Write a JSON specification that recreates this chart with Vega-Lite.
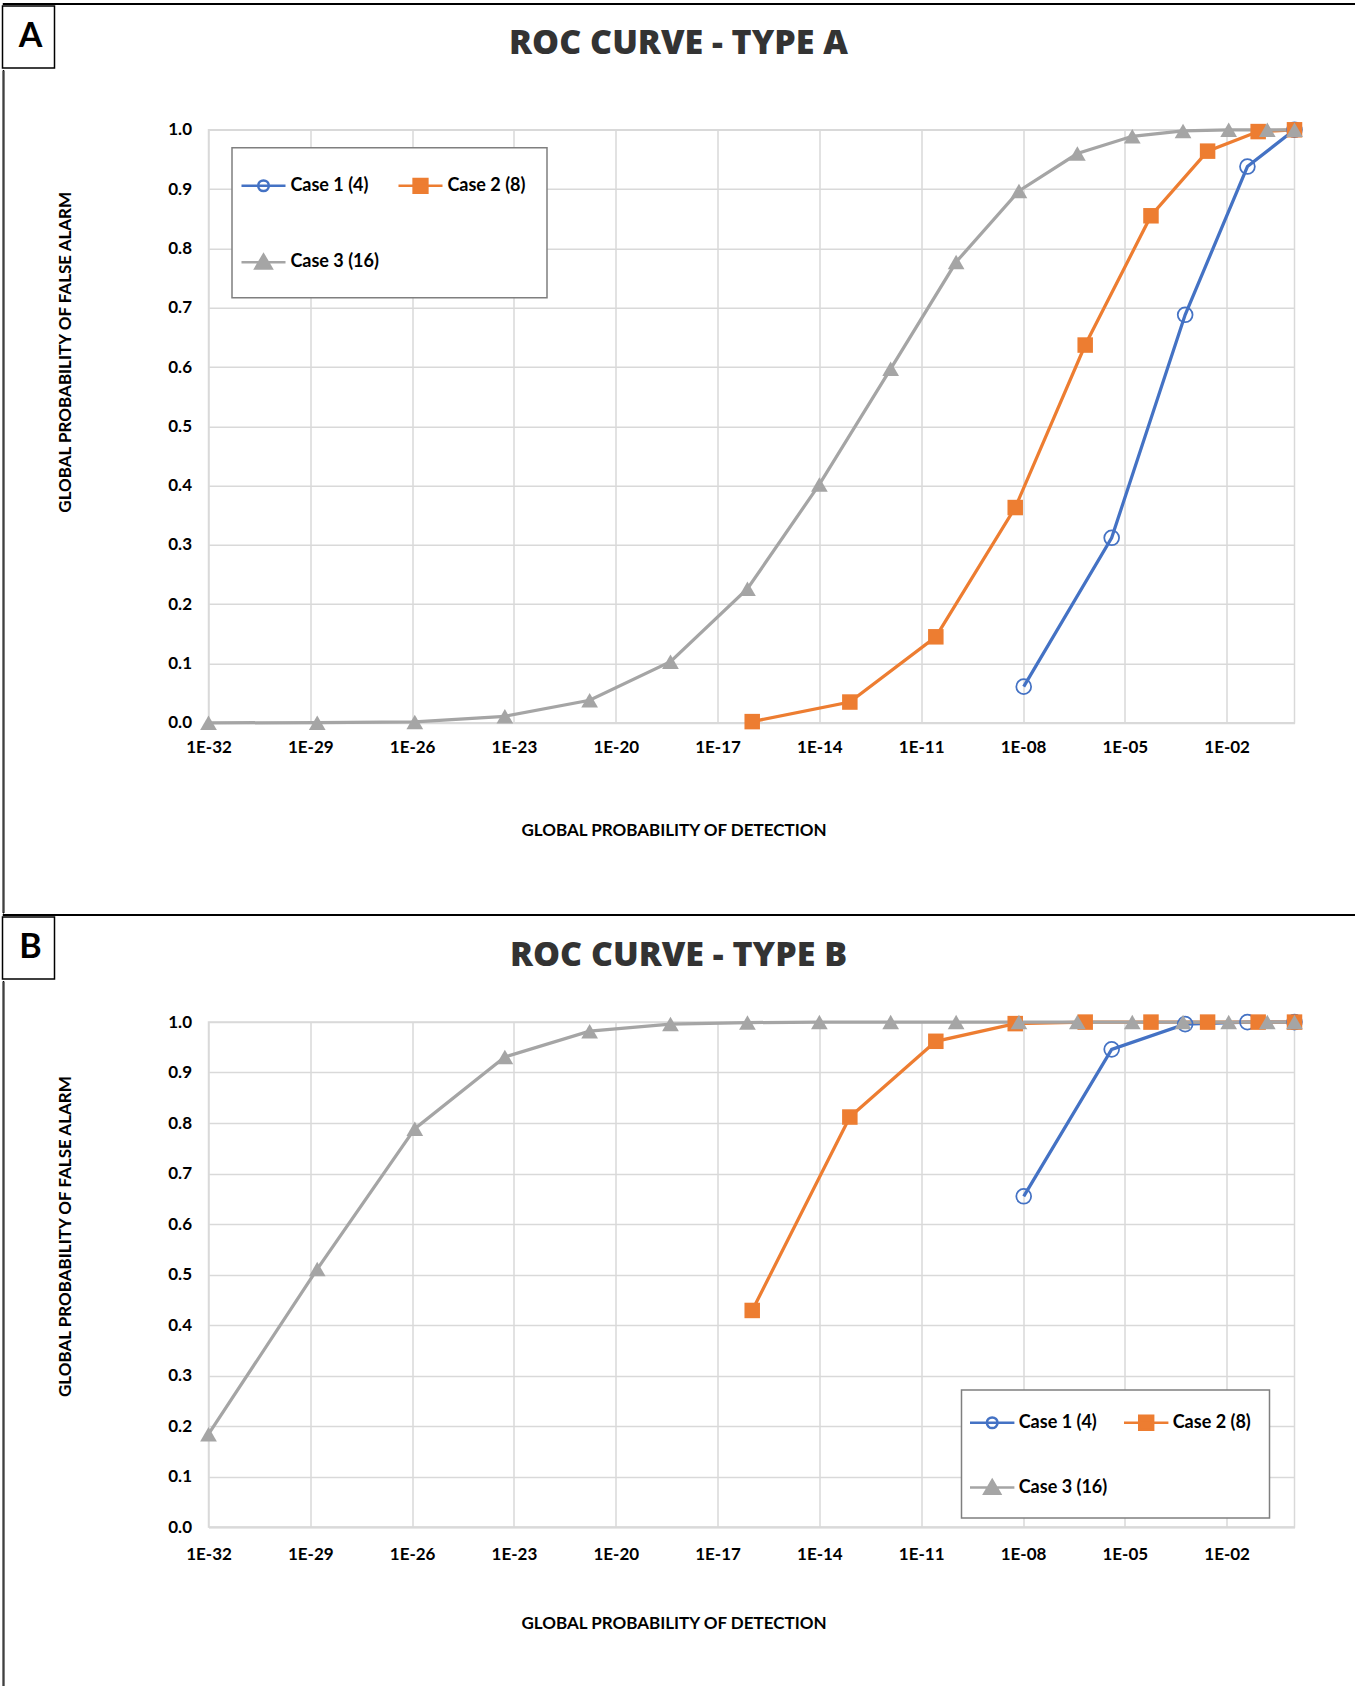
{
  "$schema": "https://vega.github.io/schema/vega-lite/v6.json",
  "background": "white",
  "padding": {"left": 1.5, "top": 2, "right": 0, "bottom": 0},
  "config": {
    "view": {"stroke": "#d9d9d9", "strokeWidth": 1.5},
    "font": "Lato",
    "axis": {
      "labelFont": "Lato", "labelFontSize": 17, "labelFontWeight": "bold", "labelColor": "#000000",
      "titleFont": "Lato", "titleFontSize": 17, "titleFontWeight": "bold", "titleColor": "#000000",
      "gridColor": "#d9d9d9", "gridWidth": 1.5, "ticks": false, "tickSize": 0,
      "labelFlush": false, "labelOverlap": false
    },
    "legend": {
      "labelFont": "Lato", "labelFontSize": 18, "labelFontWeight": "bold", "labelColor": "#000000",
      "symbolStrokeWidth": 2.5, "symbolOpacity": 1, "symbolFillColor": "white",
      "strokeColor": "#7f7f7f", "fillColor": "white", "strokeWidth": 1.5, "direction": "horizontal"
    },
    "title": {"font": "Open Sans", "fontSize": 34, "fontWeight": 800, "color": "#333333", "anchor": "middle", "frame": "group"}
  },
  "datasets": {
    "typeA": [
      {"series": "Case 1 (4)", "pd": 1.05e-8, "pfa": 0.061},
      {"series": "Case 1 (4)", "pd": 4.1e-6, "pfa": 0.312},
      {"series": "Case 1 (4)", "pd": 6.0e-4, "pfa": 0.688},
      {"series": "Case 1 (4)", "pd": 0.041, "pfa": 0.938},
      {"series": "Case 1 (4)", "pd": 1, "pfa": 1.0},
      {"series": "Case 2 (8)", "pd": 1.05e-16, "pfa": 0.002},
      {"series": "Case 2 (8)", "pd": 7.9e-14, "pfa": 0.035},
      {"series": "Case 2 (8)", "pd": 2.7e-11, "pfa": 0.145},
      {"series": "Case 2 (8)", "pd": 5.9e-9, "pfa": 0.363},
      {"series": "Case 2 (8)", "pd": 6.8e-7, "pfa": 0.637},
      {"series": "Case 2 (8)", "pd": 5.9e-5, "pfa": 0.855},
      {"series": "Case 2 (8)", "pd": 2.75e-3, "pfa": 0.964},
      {"series": "Case 2 (8)", "pd": 0.085, "pfa": 0.997},
      {"series": "Case 2 (8)", "pd": 1, "pfa": 1.0},
      {"series": "Case 3 (16)", "pd": 1e-32, "pfa": 0.0},
      {"series": "Case 3 (16)", "pd": 1.6e-29, "pfa": 0.0002},
      {"series": "Case 3 (16)", "pd": 1.2e-26, "pfa": 0.0015},
      {"series": "Case 3 (16)", "pd": 5.4e-24, "pfa": 0.011},
      {"series": "Case 3 (16)", "pd": 1.7e-21, "pfa": 0.038},
      {"series": "Case 3 (16)", "pd": 4.1e-19, "pfa": 0.103},
      {"series": "Case 3 (16)", "pd": 7.6e-17, "pfa": 0.226},
      {"series": "Case 3 (16)", "pd": 1.0e-14, "pfa": 0.402},
      {"series": "Case 3 (16)", "pd": 1.26e-12, "pfa": 0.597},
      {"series": "Case 3 (16)", "pd": 1.07e-10, "pfa": 0.777},
      {"series": "Case 3 (16)", "pd": 7.6e-9, "pfa": 0.897},
      {"series": "Case 3 (16)", "pd": 4.0e-7, "pfa": 0.960},
      {"series": "Case 3 (16)", "pd": 1.66e-5, "pfa": 0.989},
      {"series": "Case 3 (16)", "pd": 5.2e-4, "pfa": 0.998},
      {"series": "Case 3 (16)", "pd": 0.0115, "pfa": 1.0},
      {"series": "Case 3 (16)", "pd": 0.158, "pfa": 1.0},
      {"series": "Case 3 (16)", "pd": 1, "pfa": 1.0}
    ],
    "typeB": [
      {"series": "Case 1 (4)", "pd": 1.05e-8, "pfa": 0.655},
      {"series": "Case 1 (4)", "pd": 4.1e-6, "pfa": 0.946},
      {"series": "Case 1 (4)", "pd": 6.0e-4, "pfa": 0.996},
      {"series": "Case 1 (4)", "pd": 0.041, "pfa": 1.0},
      {"series": "Case 1 (4)", "pd": 1, "pfa": 1.0},
      {"series": "Case 2 (8)", "pd": 1.05e-16, "pfa": 0.429},
      {"series": "Case 2 (8)", "pd": 7.9e-14, "pfa": 0.812},
      {"series": "Case 2 (8)", "pd": 2.7e-11, "pfa": 0.962},
      {"series": "Case 2 (8)", "pd": 5.9e-9, "pfa": 0.997},
      {"series": "Case 2 (8)", "pd": 6.8e-7, "pfa": 1.0},
      {"series": "Case 2 (8)", "pd": 5.9e-5, "pfa": 1.0},
      {"series": "Case 2 (8)", "pd": 2.75e-3, "pfa": 1.0},
      {"series": "Case 2 (8)", "pd": 0.085, "pfa": 1.0},
      {"series": "Case 2 (8)", "pd": 1, "pfa": 1.0},
      {"series": "Case 3 (16)", "pd": 1e-32, "pfa": 0.184},
      {"series": "Case 3 (16)", "pd": 1.6e-29, "pfa": 0.511},
      {"series": "Case 3 (16)", "pd": 1.2e-26, "pfa": 0.789},
      {"series": "Case 3 (16)", "pd": 5.4e-24, "pfa": 0.931},
      {"series": "Case 3 (16)", "pd": 1.7e-21, "pfa": 0.982},
      {"series": "Case 3 (16)", "pd": 4.1e-19, "pfa": 0.996},
      {"series": "Case 3 (16)", "pd": 7.6e-17, "pfa": 0.999},
      {"series": "Case 3 (16)", "pd": 1.0e-14, "pfa": 1.0},
      {"series": "Case 3 (16)", "pd": 1.26e-12, "pfa": 1.0},
      {"series": "Case 3 (16)", "pd": 1.07e-10, "pfa": 1.0},
      {"series": "Case 3 (16)", "pd": 7.6e-9, "pfa": 1.0},
      {"series": "Case 3 (16)", "pd": 4.0e-7, "pfa": 1.0},
      {"series": "Case 3 (16)", "pd": 1.66e-5, "pfa": 1.0},
      {"series": "Case 3 (16)", "pd": 5.2e-4, "pfa": 1.0},
      {"series": "Case 3 (16)", "pd": 0.0115, "pfa": 1.0},
      {"series": "Case 3 (16)", "pd": 0.158, "pfa": 1.0},
      {"series": "Case 3 (16)", "pd": 1, "pfa": 1.0}
    ]
  },
  "spacing": 0,
  "resolve": {
    "scale": {"color": "independent", "stroke": "independent", "fill": "independent", "shape": "independent"},
    "legend": {"color": "independent", "stroke": "independent", "fill": "independent", "shape": "independent"}
  },
  "vconcat": [
    {"width": 1356, "height": 1, "view": {"stroke": "black", "strokeWidth": 1}, "data": {"values": []}, "mark": "point", "encoding": {}},
    {
      "spacing": 0,
      "resolve": {
        "scale": {"color": "independent", "stroke": "independent", "fill": "independent", "shape": "independent"},
        "legend": {"color": "independent", "stroke": "independent", "fill": "independent", "shape": "independent"}
      },
      "hconcat": [
        {
          "spacing": 0,
          "vconcat": [
            {"width": 52, "height": 62, "view": {"stroke": "black", "strokeWidth": 1.5},
             "data": {"values": [{"label": "A"}]},
             "mark": {"type": "text", "font": "Lato", "fontSize": 34, "fontWeight": "bold", "color": "black", "dx": 2, "baseline": "middle", "align": "center"},
             "encoding": {"text": {"field": "label", "type": "nominal"}}},
            {"width": 1, "height": 842.5, "view": {"stroke": "black", "strokeWidth": 1}, "data": {"values": []}, "mark": "point", "encoding": {}}
          ]
        },
        {
          "spacing": 18.8,
          "resolve": {
            "scale": {"color": "independent", "stroke": "independent", "fill": "independent", "shape": "independent"},
            "legend": {"color": "independent", "stroke": "independent", "fill": "independent", "shape": "independent"}
          },
          "vconcat": [
            {"width": 1, "height": 1, "view": {"stroke": null}, "data": {"values": []}, "mark": "point", "encoding": {}},
            {
              "width": 1086, "height": 593,
              "data": {"name": "typeA"},
              "title": {"text": "ROC CURVE - TYPE A", "offset": 58, "dx": -73},
              "encoding": {
                "x": {"field": "pd", "type": "quantitative", "scale": {"type": "log", "domain": [1e-32, 1], "nice": false},
                  "axis": {"title": "GLOBAL PROBABILITY OF DETECTION",
                    "values": [1e-32, 1e-29, 1e-26, 1e-23, 1e-20, 1e-17, 1e-14, 1e-11, 1e-8, 1e-5, 1e-2],
                    "labelExpr": "'1E-' + (round(-log(datum.value)/LN10) < 10 ? '0' : '') + round(-log(datum.value)/LN10)",
                    "labelPadding": 17, "titlePadding": 67, "titleX": 465, "domain": true, "domainColor": "#d9d9d9", "domainWidth": 2}},
                "y": {"field": "pfa", "type": "quantitative", "scale": {"domain": [0, 1], "nice": false},
                  "axis": {"title": "GLOBAL PROBABILITY OF FALSE ALARM",
                    "values": [0, 0.1, 0.2, 0.3, 0.4, 0.5, 0.6, 0.7, 0.8, 0.9, 1.0], "format": ".1f",
                    "labelPadding": 17, "titleX": -143, "titleY": 222, "titleAngle": 270, "titleBaseline": "middle", "titleAlign": "center", "domain": false}}
              },
              "layer": [
                {"mark": {"type": "line", "strokeWidth": 3.25},
                 "encoding": {"color": {"field": "series", "type": "nominal", "scale": {"range": ["#4472C4", "#ED7D31", "#A5A5A5"]}, "legend": null}}},
                {"transform": [{"filter": "datum.series === 'Case 1 (4)'"}],
                 "mark": {"type": "point", "shape": "circle", "size": 220, "filled": false, "color": "#4472C4", "strokeWidth": 1.75, "opacity": 1}},
                {"transform": [{"filter": "datum.series === 'Case 2 (8)'"}],
                 "mark": {"type": "point", "shape": "square", "size": 240, "filled": true, "color": "#ED7D31", "opacity": 1}},
                {"transform": [{"filter": "datum.series === 'Case 3 (16)'"}],
                 "mark": {"type": "point", "shape": "triangle-up", "size": 280, "filled": true, "color": "#A5A5A5", "opacity": 1}},
                {"mark": {"type": "point", "opacity": 0},
                 "encoding": {
                   "stroke": {"field": "series", "type": "nominal", "scale": {"domain": ["Case 1 (4)", "Case 2 (8)", "Case 3 (16)"], "range": ["#4472C4", "#ED7D31", "#A5A5A5"]},
                     "legend": {"orient": "none", "legendX": 23.5, "legendY": 18, "columns": 2, "direction": "horizontal", "title": null, "padding": 8, "rowPadding": 20, "columnPadding": 14, "labelOffset": -2.6, "symbolOffset": -6, "symbolSize": 3136}},
                   "fill": {"field": "series", "type": "nominal", "scale": {"domain": ["Case 1 (4)", "Case 2 (8)", "Case 3 (16)"], "range": ["transparent", "#ED7D31", "#A5A5A5"]}},
                   "shape": {"field": "series", "type": "nominal", "scale": {"domain": ["Case 1 (4)", "Case 2 (8)", "Case 3 (16)"], "range": [
                     "M0,-0.77M0,0.77M-0.786,0H0.786M0.19,0A0.19,0.19,0,1,1,-0.19,0A0.19,0.19,0,1,1,0.19,0",
                     "M0,-0.77M0,0.77M4.05,0M-0.786,0H0.786M-0.246,-0.246H0.246V0.246H-0.246Z",
                     "M0,-0.77M0,0.77M-0.786,0H0.786M0,-0.27L0.29,0.22H-0.29Z"]}}
                 }}
              ]
            }
          ]
        }
      ]
    },
    {"width": 1356, "height": 1, "view": {"stroke": "black", "strokeWidth": 1}, "data": {"values": []}, "mark": "point", "encoding": {}},
    {
      "spacing": 0,
      "resolve": {
        "scale": {"color": "independent", "stroke": "independent", "fill": "independent", "shape": "independent"},
        "legend": {"color": "independent", "stroke": "independent", "fill": "independent", "shape": "independent"}
      },
      "hconcat": [
        {
          "spacing": 0,
          "vconcat": [
            {"width": 52, "height": 62, "view": {"stroke": "black", "strokeWidth": 1.5},
             "data": {"values": [{"label": "B"}]},
             "mark": {"type": "text", "font": "Lato", "fontSize": 34, "fontWeight": "bold", "color": "black", "dx": 2, "baseline": "middle", "align": "center"},
             "encoding": {"text": {"field": "label", "type": "nominal"}}},
            {"width": 1, "height": 720, "view": {"stroke": "black", "strokeWidth": 1}, "data": {"values": []}, "mark": "point", "encoding": {}}
          ]
        },
        {
          "spacing": 20.1,
          "resolve": {
            "scale": {"color": "independent", "stroke": "independent", "fill": "independent", "shape": "independent"},
            "legend": {"color": "independent", "stroke": "independent", "fill": "independent", "shape": "independent"}
          },
          "vconcat": [
            {"width": 1, "height": 1, "view": {"stroke": null}, "data": {"values": []}, "mark": "point", "encoding": {}},
            {
              "width": 1086, "height": 505,
              "data": {"name": "typeB"},
              "title": {"text": "ROC CURVE - TYPE B", "offset": 38, "dx": -73},
              "encoding": {
                "x": {"field": "pd", "type": "quantitative", "scale": {"type": "log", "domain": [1e-32, 1], "nice": false},
                  "axis": {"title": "GLOBAL PROBABILITY OF DETECTION",
                    "values": [1e-32, 1e-29, 1e-26, 1e-23, 1e-20, 1e-17, 1e-14, 1e-11, 1e-8, 1e-5, 1e-2],
                    "labelExpr": "'1E-' + (round(-log(datum.value)/LN10) < 10 ? '0' : '') + round(-log(datum.value)/LN10)",
                    "labelPadding": 19.5, "titlePadding": 53, "titleX": 465, "domain": true, "domainColor": "#d9d9d9", "domainWidth": 2}},
                "y": {"field": "pfa", "type": "quantitative", "scale": {"domain": [0, 1], "nice": false},
                  "axis": {"title": "GLOBAL PROBABILITY OF FALSE ALARM",
                    "values": [0, 0.1, 0.2, 0.3, 0.4, 0.5, 0.6, 0.7, 0.8, 0.9, 1.0], "format": ".1f",
                    "labelPadding": 17, "titleX": -143, "titleY": 214, "titleAngle": 270, "titleBaseline": "middle", "titleAlign": "center", "domain": false}}
              },
              "layer": [
                {"mark": {"type": "line", "strokeWidth": 3.25},
                 "encoding": {"color": {"field": "series", "type": "nominal", "scale": {"range": ["#4472C4", "#ED7D31", "#A5A5A5"]}, "legend": null}}},
                {"transform": [{"filter": "datum.series === 'Case 1 (4)'"}],
                 "mark": {"type": "point", "shape": "circle", "size": 220, "filled": false, "color": "#4472C4", "strokeWidth": 1.75, "opacity": 1}},
                {"transform": [{"filter": "datum.series === 'Case 2 (8)'"}],
                 "mark": {"type": "point", "shape": "square", "size": 240, "filled": true, "color": "#ED7D31", "opacity": 1}},
                {"transform": [{"filter": "datum.series === 'Case 3 (16)'"}],
                 "mark": {"type": "point", "shape": "triangle-up", "size": 280, "filled": true, "color": "#A5A5A5", "opacity": 1}},
                {"mark": {"type": "point", "opacity": 0},
                 "encoding": {
                   "stroke": {"field": "series", "type": "nominal", "scale": {"domain": ["Case 1 (4)", "Case 2 (8)", "Case 3 (16)"], "range": ["#4472C4", "#ED7D31", "#A5A5A5"]},
                     "legend": {"orient": "none", "legendX": 753, "legendY": 368, "columns": 2, "direction": "horizontal", "title": null, "padding": 7, "rowPadding": 16, "columnPadding": 11, "labelOffset": 1, "symbolOffset": -1.8, "symbolSize": 2304}},
                   "fill": {"field": "series", "type": "nominal", "scale": {"domain": ["Case 1 (4)", "Case 2 (8)", "Case 3 (16)"], "range": ["transparent", "#ED7D31", "#A5A5A5"]}},
                   "shape": {"field": "series", "type": "nominal", "scale": {"domain": ["Case 1 (4)", "Case 2 (8)", "Case 3 (16)"], "range": [
                     "M0,-0.76M0,0.76M-0.925,0H0.925M0.223,0A0.223,0.223,0,1,1,-0.223,0A0.223,0.223,0,1,1,0.223,0",
                     "M0,-0.76M0,0.76M4.6,0M-0.925,0H0.925M-0.29,-0.29H0.29V0.29H-0.29Z",
                     "M0,-0.76M0,0.76M-0.925,0H0.925M0,-0.31L0.33,0.26H-0.33Z"]}}
                 }}
              ]
            }
          ]
        }
      ]
    }
  ]
}
